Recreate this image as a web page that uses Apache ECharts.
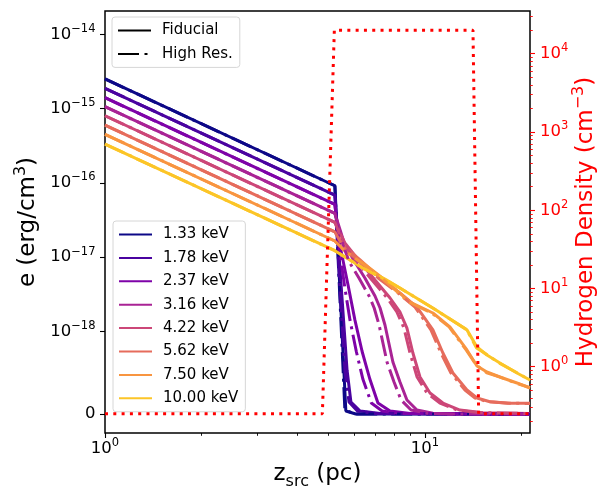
<!DOCTYPE html>
<html><head><meta charset="utf-8">
<script src="https://cdn.jsdelivr.net/npm/echarts@6/dist/echarts.min.js"></script>
<style>html,body{margin:0;padding:0;background:#fff}#c{width:601px;height:489px}</style>
</head><body><div id="c"></div>
<script>
// ---------------- data ----------------
const energies = ['1.33 keV','1.78 keV','2.37 keV','3.16 keV','4.22 keV','5.62 keV','7.50 keV','10.00 keV'];
const colors = ['#0d0887','#4a03a0','#7e03a8','#a92395','#cc4778','#e66c5c','#f89540','#fcc527'];

// Fiducial runs: [z_src (pc), e (erg/cm^3)]
const fid133 = [[1,2.50e-15],[5.23,9.14e-17],[5.66,3.6e-20],[6.08,0],[21.3,0]];
const fid178 = [[1,1.87e-15],[5.23,6.84e-17],[5.47,4.22e-18],[5.71,5.3e-19],[5.87,1.45e-19],[6.27,3.6e-20],[7.24,6e-21],[21.3,0]];
const fid237 = [[1,1.40e-15],[5.23,5.12e-17],[5.42,1.46e-17],[5.75,4.22e-18],[6.04,1.43e-18],[6.36,7.6e-19],[6.73,4.2e-19],[7.13,1.33e-19],[7.78,3.6e-20],[8.98,6e-21],[21.3,0]];
const fid316 = [[1,1.06e-15],[5.23,3.88e-17],[5.62,1.46e-17],[6.04,8.61e-18],[6.49,5.24e-18],[6.98,3.0e-18],[7.24,2.07e-18],[7.50,1.22e-18],[7.94,6.3e-19],[8.35,3.9e-19],[8.785,1.7e-19],[9.44,4.8e-20],[10.59,1e-20],[12.86,0],[21.3,0]];
const fid422 = [[1,8.0e-16],[5.23,2.93e-17],[5.62,1.55e-17],[6.27,8.61e-18],[6.98,4.92e-18],[7.78,2.82e-18],[8.35,1.83e-18],[8.785,1.11e-18],[9.17,7.39e-19],[9.65,4.48e-19],[10.37,2.55e-19],[11.38,1.33e-19],[12.86,4.8e-20],[15.18,1.6e-20],[21.3,6e-21]];
const fid562 = [[1,6.0e-16],[5.23,2.19e-17],[5.62,1.37e-17],[6.27,9.16e-18],[7.24,5.24e-18],[8.35,3.30e-18],[9.44,2.13e-18],[10.59,1.05e-18],[11.38,7.39e-19],[12.23,4.97e-19],[13.53,2.91e-19],[14.54,1.94e-19],[15.96,1.49e-19],[18.44,1.30e-19],[21.3,1.30e-19]];
const fid750 = [[1,4.5e-16],[5.23,1.65e-17],[5.62,1.21e-17],[6.40,8.34e-18],[7.50,4.92e-18],[8.98,2.49e-18],[10.59,1.77e-18],[11.97,1.15e-18],[13.53,7.76e-19],[14.54,5.82e-19],[15.62,5.09e-19],[17.15,4.48e-19],[19.39,3.76e-19],[21.3,3.15e-19]];
const fid1000 = [[1,3.33e-16],[5.23,1.22e-17],[6.40,7.14e-18],[7.50,5.08e-18],[8.35,3.85e-18],[10.59,2.07e-18],[13.53,1.05e-18],[14.54,8.12e-19],[15.62,7.15e-19],[17.15,6.18e-19],[19.39,4.97e-19],[21.3,4.12e-19]];

// High-resolution runs
const hr133 = [[1,2.50e-15],[5.23,9.14e-17],[5.62,5e-20],[6.04,0],[21.3,0]];
const hr178 = [[1,1.87e-15],[5.23,6.84e-17],[5.42,4.22e-18],[5.62,5.3e-19],[5.79,1.45e-19],[6.15,3.6e-20],[7.0,6e-21],[21.3,0]];
const hr237 = [[1,1.40e-15],[5.23,5.12e-17],[5.38,1.46e-17],[5.62,3.85e-18],[5.83,1.43e-18],[6.10,7.6e-19],[6.40,4.2e-19],[6.80,1.33e-19],[7.35,3.6e-20],[8.4,6e-21],[21.3,0]];
const hr316 = [[1,1.06e-15],[5.23,3.88e-17],[5.55,1.46e-17],[5.80,8.61e-18],[6.22,5.24e-18],[6.69,3.0e-18],[6.94,2.07e-18],[7.19,1.22e-18],[7.61,6.3e-19],[8.0,3.9e-19],[8.42,1.7e-19],[9.05,4.8e-20],[10.15,1e-20],[12.3,0],[21.3,0]];
const hr422 = [[1,8.0e-16],[5.23,2.93e-17],[5.55,1.55e-17],[6.14,8.61e-18],[6.83,4.92e-18],[7.62,2.82e-18],[8.17,1.83e-18],[8.60,1.11e-18],[8.98,7.39e-19],[9.45,4.48e-19],[10.15,2.55e-19],[11.14,1.33e-19],[12.59,4.8e-20],[14.86,1.6e-20],[21.3,6e-21]];
const hr562 = [[1,6.0e-16],[5.23,2.19e-17],[5.55,1.37e-17],[6.18,9.16e-18],[7.14,5.24e-18],[8.23,3.30e-18],[9.31,2.13e-18],[10.44,1.05e-18],[11.22,7.39e-19],[12.06,4.97e-19],[13.34,2.91e-19],[14.34,1.94e-19],[15.74,1.49e-19],[18.18,1.30e-19],[21.3,1.28e-19]];
const hr750 = [[1,4.5e-16],[5.23,1.65e-17],[5.62,1.21e-17],[6.35,8.34e-18],[7.45,4.92e-18],[8.9,2.49e-18],[10.5,1.77e-18],[11.9,1.15e-18],[13.45,7.76e-19],[14.5,5.9e-19],[15.6,5.0e-19],[17.1,4.5e-19],[19.4,3.7e-19],[21.3,3.2e-19]];
const hr1000 = [[1,3.33e-16],[5.23,1.22e-17],[6.40,7.1e-18],[7.5,5.0e-18],[8.35,3.85e-18],[10.6,2.05e-18],[13.5,1.06e-18],[14.5,8.0e-19],[15.6,7.2e-19],[17.2,6.1e-19],[19.4,5.0e-19],[21.3,4.1e-19]];

// Hydrogen density profile (cm^-3)
const densX = [1, 4.78, 5.21, 14.13, 14.72, 21.3];
const densN = [0.25, 0.25, 2e4, 2e4, 0.25, 0.25];

// Axis ranges and ticks
const xRange = [1, 21.3];
const xMajor = [1, 10];
const xMinor = [2,3,4,5,6,7,8,9,20];
const eTicks = [0, 1e-18, 1e-17, 1e-16, 1e-15, 1e-14];
const eTickExp = [null, -18, -17, -16, -15, -14];
const nRange = [0.1422, 35170];
const nMajor = [1, 10, 100, 1000, 10000];
const nMinor = [0.2,0.3,0.4,0.5,0.6,0.7,0.8,0.9,2,3,4,5,6,7,8,9,20,30,40,50,60,70,80,90,200,300,400,500,600,700,800,900,2000,3000,4000,5000,6000,7000,8000,9000,20000,30000];

// ---------------- scales ----------------
const T = 1e-18, LS = 1/(1-1/10);               // symlog, linthresh 1e-18, linscale 1
const sym = e => e <= T ? (e/T)*LS : LS + Math.log10(e/T);
const lg = Math.log10;
const eMin = -0.2557, eMax = 5.424;

const FONT = 'DejaVu Sans';
const tickRich = (col) => ({
  b: {fontSize: 16.5, lineHeight: 23, verticalAlign: 'middle', color: col, fontFamily: FONT},
  s: {fontSize: 11.5, lineHeight: 23, verticalAlign: 'top', color: col, fontFamily: FONT}
});
const nameRich = (col) => ({
  b: {fontSize: 23, lineHeight: 31, verticalAlign: 'middle', color: col, fontFamily: FONT},
  s: {fontSize: 16, lineHeight: 31, verticalAlign: 'top', color: col, fontFamily: FONT},
  u: {fontSize: 16, lineHeight: 31, verticalAlign: 'bottom', color: col, fontFamily: FONT}
});
const near = (a, b) => Math.abs(a - b) < 1e-6;

const fids = [fid133,fid178,fid237,fid316,fid422,fid562,fid750,fid1000];
const hrs = [hr133,hr178,hr237,hr316,hr422,hr562,hr750,hr1000];
const DASHDOT = [21, 5.5, 3, 5.5];

const series = [];
fids.forEach((d, i) => series.push({
  name: energies[i], type: 'line', xAxisIndex: 0, yAxisIndex: 0,
  data: d.map(p => [lg(p[0]), sym(p[1])]),
  symbol: 'none', showSymbol: false, animation: false, z: 2,
  lineStyle: {color: colors[i], width: 3},
  itemStyle: {color: colors[i]}
}));
hrs.forEach((d, i) => series.push({
  name: energies[i] + ' (HR)', type: 'line', xAxisIndex: 0, yAxisIndex: 0,
  data: d.map(p => [lg(p[0]), sym(p[1])]),
  symbol: 'none', showSymbol: false, animation: false, z: 3,
  lineStyle: {color: colors[i], width: 3, type: DASHDOT, cap: 'butt'},
  itemStyle: {color: colors[i]}
}));
series.push({
  name: 'Fiducial', type: 'line', xAxisIndex: 0, yAxisIndex: 0, data: [], symbol: 'none', animation: false,
  lineStyle: {color: '#000', width: 3}, itemStyle: {color: '#000'}
});
series.push({
  name: 'High Res.', type: 'line', xAxisIndex: 0, yAxisIndex: 0, data: [], symbol: 'none', animation: false,
  lineStyle: {color: '#000', width: 3, type: DASHDOT, cap: 'butt'}, itemStyle: {color: '#000'}
});
series.push({
  name: 'Hydrogen Density', type: 'line', xAxisIndex: 0, yAxisIndex: 1,
  data: densX.map((x, i) => [lg(x), lg(densN[i])]),
  symbol: 'none', showSymbol: false, animation: false, z: 5,
  lineStyle: {color: '#ff0000', width: 3, type: [3, 5.3], cap: 'butt'}
});

const legendBase = {
  orient: 'vertical', itemWidth: 33, itemHeight: 14, itemGap: 8.4,
  padding: [6, 7, 6, 5], backgroundColor: '#fff', borderColor: '#d6d6d6',
  borderWidth: 1, borderRadius: 3, selectedMode: false,
  itemStyle: {opacity: 0},
  textStyle: {fontSize: 15, fontFamily: FONT, color: '#000', lineHeight: 14, padding: [0, 0, 0, 6]}
};

const noZero = {show: false, onZero: false};

const option = {
  animation: false,
  textStyle: {fontFamily: FONT},
  grid: {left: 105, right: 71, top: 11, bottom: 56, show: true, borderColor: '#000', borderWidth: 1.5,
         backgroundColor: 'transparent', containLabel: false, outerBoundsMode: 'none'},
  legend: [
    Object.assign({}, legendBase, {data: ['Fiducial', 'High Res.'], left: 112, top: 17}),
    Object.assign({}, legendBase, {data: energies, left: 113, top: 221})
  ],
  xAxis: [
    {
      type: 'value', position: 'bottom', min: lg(xRange[0]), max: lg(xRange[1]),
      axisLine: noZero, splitLine: {show: false},
      axisTick: {show: true, customValues: xMajor.map(lg), length: 5, lineStyle: {color: '#000', width: 1.1}},
      axisLabel: {
        customValues: xMajor.map(lg), margin: 4.5, rich: tickRich('#000'),
        formatter: v => '{b|10}{s|' + Math.round(v) + '}'
      },
      name: '{b|z}{u|src}{b| (pc)}', nameLocation: 'middle', nameGap: 26, nameMoveOverlap: false,
      nameTextStyle: {rich: nameRich('#000')}
    },
    {
      type: 'value', position: 'bottom', min: lg(xRange[0]), max: lg(xRange[1]),
      axisLine: noZero, splitLine: {show: false}, axisLabel: {show: false},
      axisTick: {show: true, customValues: xMinor.map(lg), length: 2.8, lineStyle: {color: '#000', width: 0.9}}
    }
  ],
  yAxis: [
    {
      type: 'value', position: 'left', min: eMin, max: eMax,
      axisLine: noZero, splitLine: {show: false},
      axisTick: {show: true, customValues: eTicks.map(sym), length: 5, lineStyle: {color: '#000', width: 1.1}},
      axisLabel: {
        customValues: eTicks.map(sym), margin: 9.5, rich: tickRich('#000'),
        formatter: v => {
          const i = eTicks.findIndex(t => near(sym(t), v));
          if (i <= 0) return '{b|0}';
          return '{b|10}{s|\u2212' + Math.abs(eTickExp[i]) + '}';
        }
      },
      name: '{b|e (erg/cm}{s|3}{b|)}', nameLocation: 'middle', nameRotate: 90, nameGap: 61, nameMoveOverlap: false,
      nameTextStyle: {rich: nameRich('#000')}
    },
    {
      type: 'value', position: 'right', min: lg(nRange[0]), max: lg(nRange[1]),
      axisLine: noZero, splitLine: {show: false},
      axisTick: {show: true, customValues: nMajor.map(lg), length: 5, lineStyle: {color: '#ff0000', width: 1.1}},
      axisLabel: {
        customValues: nMajor.map(lg), margin: 10, rich: tickRich('#ff0000'),
        formatter: v => '{b|10}{s|' + Math.round(v) + '}'
      },
      name: '{b|Hydrogen Density (cm}{s|\u22123}{b|)}', nameLocation: 'middle', nameRotate: 90, nameGap: 41,
      nameMoveOverlap: false,
      nameTextStyle: {rich: nameRich('#ff0000')}
    },
    {
      type: 'value', position: 'right', min: lg(nRange[0]), max: lg(nRange[1]),
      axisLine: noZero, splitLine: {show: false}, axisLabel: {show: false},
      axisTick: {show: true, customValues: nMinor.map(lg), length: 2.8, lineStyle: {color: '#ff0000', width: 0.9}}
    }
  ],
  series: series
};

const chart = echarts.init(document.getElementById('c'), null, {renderer: 'canvas'});
chart.setOption(option);
</script>
</body></html>
